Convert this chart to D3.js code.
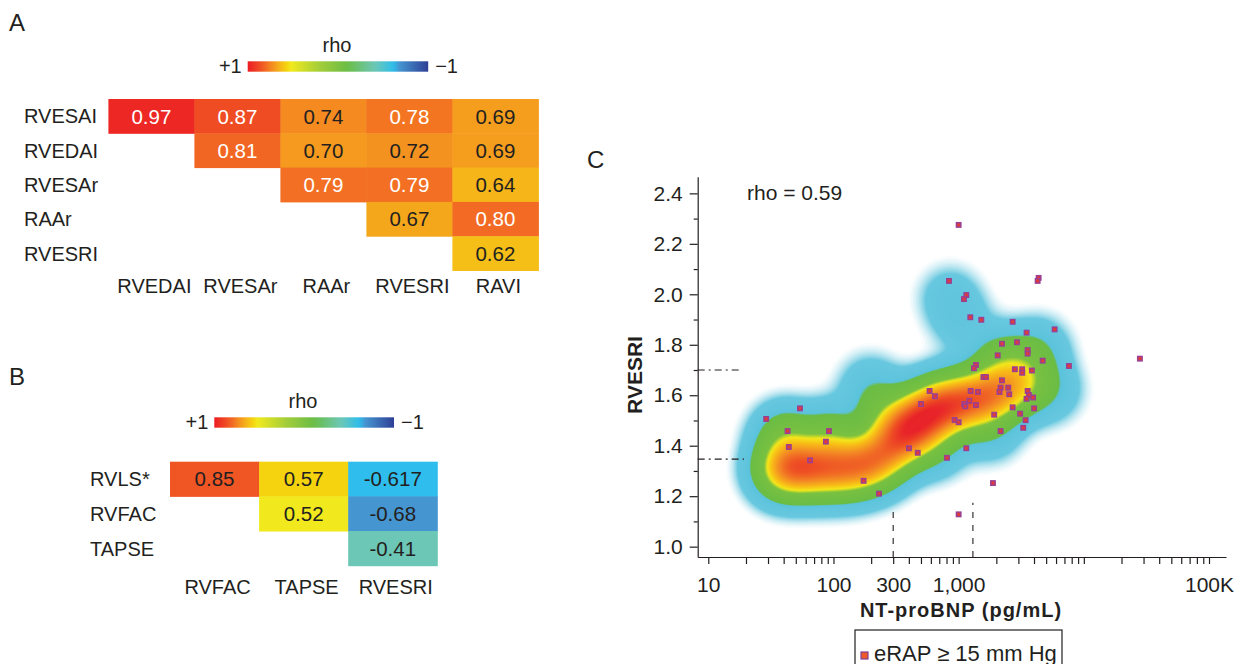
<!DOCTYPE html>
<html>
<head>
<meta charset="utf-8">
<script src="https://cdn.jsdelivr.net/npm/d3@7"></script>
<style>
body { margin: 0; background: #fff; }
svg { font-family: "Liberation Sans", Arial, Helvetica, sans-serif; }
text { fill: #231f20; }
</style>
</head>
<body>
<svg id="fig" width="1238" height="664"></svg>
<script>
// ---- panel A: correlation matrix ----
var rowsA = ["RVESAI", "RVEDAI", "RVESAr", "RAAr", "RVESRI"];
var colsA = ["RVEDAI", "RVESAr", "RAAr", "RVESRI", "RAVI"];
var rhoA = [
    [0.97, 0.87, 0.74, 0.78, 0.69],
    [null, 0.81, 0.70, 0.72, 0.69],
    [null, null, 0.79, 0.79, 0.64],
    [null, null, null, 0.67, 0.80],
    [null, null, null, null, 0.62]
];

// ---- panel B ----
var rowsB = ["RVLS*", "RVFAC", "TAPSE"];
var colsB = ["RVFAC", "TAPSE", "RVESRI"];
var rhoB = [
    [0.85, 0.57, -0.617],
    [null, 0.52, -0.68],
    [null, null, -0.41]
];

// ---- panel C: NT-proBNP vs RVESRI, eRAP >= 15 patients ----
var bnpValues = [29, 54, 43, 92, 87, 44, 65, 174, 231, 586, 647, 500, 929, 1000, 401, 471, 807, 1000,
    1000, 837, 1151, 1103, 4355, 4276, 1239, 1517, 2700, 5845, 3490, 2218, 2924, 3557, 3557, 2051,
    4690, 7603, 1374, 1325, 2813, 3219, 3219, 3846, 1578, 1652, 2218, 1247, 1427, 2163, 2489, 2118,
    2535, 3557, 3641, 3490, 3936, 1216, 1109, 1130, 1374, 2700, 4009, 1923, 3097, 3428, 3281, 2163,
    1151, 1879, 28050];
var rvesriValues = [1.506, 1.548, 1.458, 1.458, 1.416, 1.395, 1.342, 1.261, 1.210, 1.617, 1.596, 1.565,
    1.502, 1.493, 1.390, 1.372, 1.352, 1.128, 2.275, 2.053, 1.997, 1.981, 2.065, 2.053, 1.909, 1.899,
    1.891, 1.861, 1.848, 1.804, 1.810, 1.779, 1.765, 1.758, 1.737, 1.716, 1.720, 1.707, 1.703, 1.703,
    1.689, 1.698, 1.672, 1.672, 1.659, 1.617, 1.613, 1.630, 1.630, 1.613, 1.604, 1.617, 1.601, 1.586,
    1.591, 1.578, 1.565, 1.556, 1.561, 1.552, 1.548, 1.523, 1.527, 1.501, 1.471, 1.458, 1.390, 1.252,
    1.745];

// density of the whole cohort, summarised as weighted centres
var densBnp =    [38.8, 59.2, 93.7, 148.6, 226.7, 327, 439, 611, 883, 1349, 2061, 3088, 40.8, 93.7, 851, 1061, 2138, 3716, 5370, 195, 646, 1778, 240, 4500];
var densRvesri = [1.304, 1.312, 1.304, 1.312, 1.343, 1.423, 1.486, 1.541, 1.565, 1.585, 1.609, 1.640, 1.44, 1.44, 1.99, 1.889, 1.747, 1.731, 1.62, 1.64, 1.40, 1.462, 1.54, 1.80];
var densWeight = [1.0, 0.95, 0.85, 0.9, 0.9, 1.0, 1.1, 1.0, 0.95, 0.9, 0.8, 0.55, 0.5, 0.45, 0.14, 0.13, 0.35, 0.3, 0.2, 0.16, 0.25, 0.2, 0.3, 0.12];

var xTickValues = [];
[10, 100, 1000, 10000].forEach(function (d) {
    for (var k = 1; k <= 9; k++) xTickValues.push(k * d);
});
xTickValues.push(100000);
var xTickLabels = {10: "10", 100: "100", 300: "300", 1000: "1,000", 100000: "100K"};
var yMajor = [1.0, 1.2, 1.4, 1.6, 1.8, 2.0, 2.2, 2.4];
var yMinor = [1.1, 1.3, 1.5, 1.7, 1.9, 2.1, 2.3];

var cutRvesri = [1.70, 1.347];
var cutRvesriEnd = [18.5, 19.3];
var cutBnp = [300, 1300];
var cutBnpTop = [1.153, 1.174];

// rho colour ramp (+1 red ... -1 blue)
var rhoColor = d3.scaleLinear()
    .domain([1, 0.87, 0.8, 0.74, 0.69, 0.62, 0.57, 0.52, 0.2, -0.1, -0.41, -0.617, -0.68, -1])
    .range(["#ec1c24", "#ef4c24", "#f26a23", "#f48a20", "#f59e1e", "#f6bf17", "#f5d30f", "#f1e91d",
            "#a3cd3a", "#6bbd45", "#6cc7b6", "#2ebdec", "#4595d0", "#2e3f96"]);

var svg = d3.select("#fig");
var defs = svg.append("defs");

function colorBar(id, x0, x1, yTop, h, rhoX, rhoY) {
    var grad = defs.append("linearGradient").attr("id", id);
    d3.range(0, 1.0001, 0.02).forEach(function (t) {
        grad.append("stop").attr("offset", t).attr("stop-color", rhoColor(1 - 2 * t));
    });
    svg.append("rect").attr("x", x0).attr("y", yTop).attr("width", x1 - x0).attr("height", h)
        .attr("fill", "url(#" + id + ")");
    svg.append("text").attr("x", rhoX).attr("y", rhoY).attr("text-anchor", "middle")
        .style("font-size", "20px").text("rho");
    svg.append("text").attr("x", x0 - 6).attr("y", yTop + h + 1).attr("text-anchor", "end")
        .style("font-size", "20px").text("+1");
    svg.append("text").attr("x", x1 + 7).attr("y", yTop + h + 1)
        .style("font-size", "20px").text("\u22121");
}

function matrix(cfg) {
    var x = d3.scaleBand().domain(cfg.cols).range(cfg.xr);
    var y = d3.scaleBand().domain(cfg.rows).range(cfg.yr);
    var cells = [];
    cfg.rho.forEach(function (row, i) {
        row.forEach(function (v, j) {
            if (v !== null) cells.push({r: cfg.rows[i], c: cfg.cols[j], v: v});
        });
    });
    var g = svg.append("g");
    g.selectAll("rect").data(cells).enter().append("rect")
        .attr("x", function (d) { return x(d.c); })
        .attr("y", function (d) { return y(d.r); })
        .attr("width", x.bandwidth() + 0.5)
        .attr("height", y.bandwidth() + 0.5)
        .attr("fill", function (d) { return rhoColor(d.v); });
    g.selectAll("text.val").data(cells).enter().append("text")
        .attr("class", "val")
        .attr("x", function (d) { return x(d.c) + x.bandwidth() / 2; })
        .attr("y", function (d) { return y(d.r) + y.bandwidth() / 2; })
        .attr("dy", "0.36em")
        .attr("text-anchor", "middle")
        .style("font-size", "20.5px")
        .style("fill", function (d) { return d.v >= cfg.whiteAbove ? "#fff" : "#231f20"; })
        .text(function (d) { return cfg.fmt(d.v); });
    g.selectAll("text.rowlab").data(cfg.rows).enter().append("text")
        .attr("class", "rowlab")
        .attr("x", cfg.rowLabelX)
        .attr("y", function (d) { return y(d) + y.bandwidth() / 2; })
        .attr("dy", "0.36em")
        .style("font-size", "20px")
        .text(function (d) { return d; });
    g.selectAll("text.collab").data(cfg.cols).enter().append("text")
        .attr("class", "collab")
        .attr("x", function (d) { return x(d) + x.bandwidth() / 2 + 3; })
        .attr("y", cfg.colLabelY)
        .attr("text-anchor", "middle")
        .style("font-size", "20px")
        .text(function (d) { return d; });
}

// panel letters
svg.append("text").attr("x", 9).attr("y", 31).style("font-size", "24px").text("A");
svg.append("text").attr("x", 9).attr("y", 385).style("font-size", "24px").text("B");
svg.append("text").attr("x", 587).attr("y", 168).style("font-size", "24px").text("C");

colorBar("gradA", 247.7, 428.2, 61.3, 10.4, 337, 51.7);
matrix({rows: rowsA, cols: colsA, rho: rhoA, xr: [108.4, 538.4], yr: [99, 270.5],
        rowLabelX: 24, colLabelY: 293, whiteAbove: 0.75,
        fmt: function (v) { return v.toFixed(2); }});

colorBar("gradB", 214.3, 394, 417.3, 10.4, 303, 408.3);
matrix({rows: rowsB, cols: colsB, rho: rhoB, xr: [170, 437.3], yr: [461.7, 565.7],
        rowLabelX: 90, colLabelY: 593.5, whiteAbove: Infinity,
        fmt: function (v) { return String(v); }});

// ---- panel C ----
var x = d3.scaleLog().domain([8.23, 136700]).range([697.7, 1226]);
var y = d3.scaleLinear().domain([0.959, 2.466]).range([557, 176.7]);

// density raster -> contours
var cell = 2;
var gx0 = x.range()[0], gy0 = y.range()[1];
var nx = Math.ceil((x.range()[1] - gx0) / cell), ny = Math.ceil((y.range()[0] - gy0) / cell);
var anchors = densBnp.map(function (b, i) {
    return {px: x(b), py: y(densRvesri[i]), w: densWeight[i]};
});
var bw = 19, s2 = 2 * bw * bw;
var vals = new Float64Array(nx * ny), vmax = 0;
for (var j = 0; j < ny; j++) {
    var py = gy0 + (j + 0.5) * cell;
    for (var i = 0; i < nx; i++) {
        var px = gx0 + (i + 0.5) * cell, s = 0;
        for (var k = 0; k < anchors.length; k++) {
            var dx = px - anchors[k].px, dy = py - anchors[k].py;
            s += anchors[k].w * Math.exp(-(dx * dx + dy * dy) / s2);
        }
        vals[j * nx + i] = s;
        if (s > vmax) vmax = s;
    }
}
for (var n = 0; n < vals.length; n++) vals[n] /= vmax;

var densColor = d3.scaleLinear()
    .domain([0, 0.005, 0.03, 0.115, 0.13, 0.34, 0.41, 0.5, 0.64, 0.8, 0.95])
    .range(["#ffffff", "#ffffff", "#68c8df", "#5cc3dc", "#6cbd45", "#7ac142", "#f3e61c",
            "#f8be18", "#f38b25", "#ee5125", "#e8242a"])
    .clamp(true);
var levels = d3.range(0.004, 0.14, 0.002).concat(d3.range(0.14, 1, 0.008));
var contours = d3.contours().size([nx, ny]).thresholds(levels)(vals);
var path = d3.geoPath(d3.geoIdentity().scale(cell).translate([gx0, gy0]));
svg.append("g").selectAll("path").data(contours).enter().append("path")
    .attr("d", path)
    .attr("fill", function (d) { return densColor(d.value); });

// cut-off lines
svg.append("g").selectAll("line").data(cutRvesri).enter().append("line")
    .attr("x1", x.range()[0]).attr("x2", function (d, i) { return x(cutRvesriEnd[i]); })
    .attr("y1", function (d) { return y(d); }).attr("y2", function (d) { return y(d); })
    .attr("stroke", "#231f20").attr("stroke-width", 1.1).attr("stroke-dasharray", "7,4,2,4");
svg.append("g").selectAll("line").data(cutBnp).enter().append("line")
    .attr("x1", function (d) { return x(d); }).attr("x2", function (d) { return x(d); })
    .attr("y1", y.range()[0]).attr("y2", function (d, i) { return y(cutBnpTop[i]); })
    .attr("stroke", "#231f20").attr("stroke-width", 1.1).attr("stroke-dasharray", "6,7");

// axes
var xAxis = svg.append("g").attr("transform", "translate(0," + y.range()[0] + ")")
    .call(d3.axisBottom(x).tickValues(xTickValues).tickSize(7).tickSizeOuter(0).tickPadding(13)
        .tickFormat(function (d) { return xTickLabels[d] || ""; }));
var yAxis = svg.append("g").attr("transform", "translate(" + x.range()[0] + ",0)")
    .call(d3.axisLeft(y).tickValues(yMajor).tickSize(8).tickSizeOuter(0).tickPadding(7)
        .tickFormat(d3.format(".1f")));
svg.append("g").attr("transform", "translate(" + x.range()[0] + ",0)")
    .call(d3.axisLeft(y).tickValues(yMinor).tickSize(4).tickFormat(""))
    .select(".domain").remove();
svg.selectAll(".tick line, .domain").attr("stroke", "#231f20").attr("stroke-width", 1.2);
[xAxis, yAxis].forEach(function (a) {
    a.attr("font-family", null).attr("font-size", null);
    a.selectAll("text").style("font-size", "21px").style("fill", "#231f20");
});

svg.append("text").attr("x", 961).attr("y", 617).attr("text-anchor", "middle")
    .style("font-size", "20px").style("font-weight", "bold").style("letter-spacing", "1px")
    .text("NT-proBNP (pg/mL)");
svg.append("text").attr("transform", "translate(642,375) rotate(-90)").attr("text-anchor", "middle")
    .style("font-size", "21px").style("font-weight", "bold").text("RVESRI");
svg.append("text").attr("x", 747).attr("y", 200).style("font-size", "21px").text("rho = 0.59");

// eRAP >= 15 markers
var pts = bnpValues.map(function (b, i) { return {b: b, r: rvesriValues[i]}; });
svg.append("g").selectAll("rect").data(pts).enter().append("rect")
    .attr("x", function (d) { return x(d.b) - 2.2; })
    .attr("y", function (d) { return y(d.r) - 2.2; })
    .attr("width", 4.4).attr("height", 4.4)
    .attr("fill", "#e23b35").attr("stroke", "#9a3f93").attr("stroke-width", 1.5);

// legend
var lg = svg.append("g").attr("transform", "translate(855,630)");
lg.append("rect").attr("width", 207).attr("height", 40).attr("fill", "none")
    .attr("stroke", "#231f20").attr("stroke-width", 1.2);
lg.append("rect").attr("x", 6).attr("y", 22).attr("width", 7).attr("height", 7)
    .attr("fill", "#f05a28").attr("stroke", "#7e3f98").attr("stroke-width", 1.2);
lg.append("text").attr("x", 19).attr("y", 30.5).style("font-size", "22px").text("eRAP \u2265 15 mm Hg");
</script>
</body>
</html>
